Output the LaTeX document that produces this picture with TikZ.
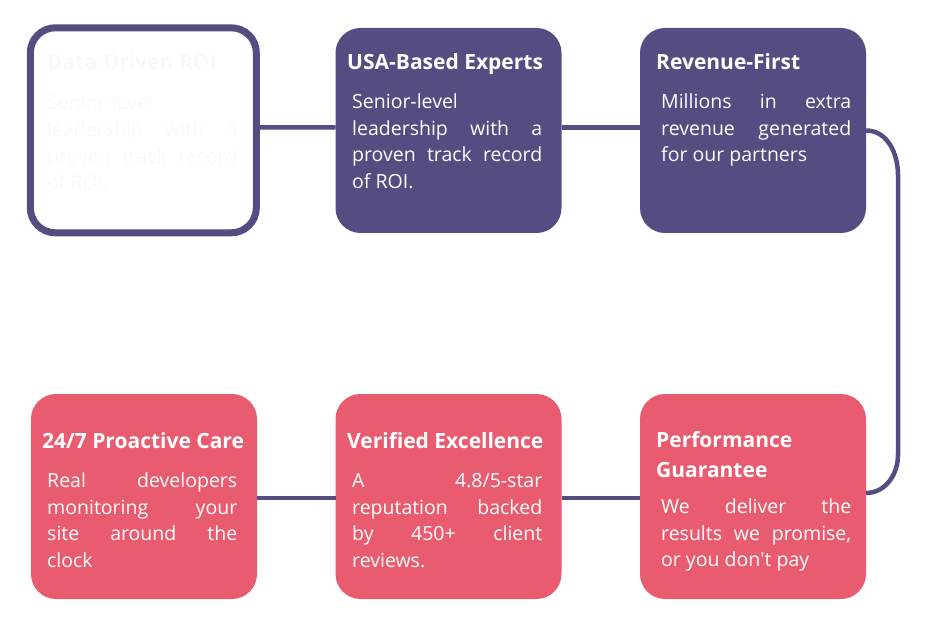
\documentclass[tikz,border=0pt]{standalone}
\usepackage{fontspec}
\setmainfont{Open Sans}
\definecolor{plum}{RGB}{85,76,129}
\definecolor{rose}{RGB}{233,92,112}
\definecolor{ghost}{RGB}{252,247,248}
\begin{document}
\begin{tikzpicture}[x=1pt,y=-1pt,
  card/.style={rounded corners=25pt, minimum width=226pt, minimum height=205pt, inner sep=0pt, outer sep=0pt},
  ttl/.style={anchor=base west, inner sep=0pt, text=white, font=\fontsize{21}{27}\selectfont\bfseries},
  body/.style={anchor=north west, inner sep=0pt, text=white, text width=190pt, align=justify, font=\fontsize{19.5}{26.7}\selectfont},
  link/.style={draw=plum, line width=4.5pt}]
\useasboundingbox (0,0) rectangle (937,636);
\fill[white] (0,0) rectangle (937,636);
% cards
\node[card, draw=plum, line width=7pt, fill=white] (b1) at (143.3,130.3) {};
\node[card, fill=plum] (b2) at (448.5,130.5) {};
\node[card, fill=plum] (b3) at (753,130.5) {};
\node[card, fill=rose] (b4) at (144,496.5) {};
\node[card, fill=rose] (b5) at (448.5,496.5) {};
\node[card, fill=rose] (b6) at (753,496.5) {};
% connectors
\draw[link] ([yshift=3pt]b1.east) -- ([yshift=3pt]b2.west);
\draw[link] ([yshift=3pt]b2.east) -- ([yshift=3pt]b3.west);
\draw[link] ([yshift=-1.5pt]b4.east) -- ([yshift=-1.5pt]b5.west);
\draw[link] ([yshift=-1.5pt]b5.east) -- ([yshift=-1.5pt]b6.west);
\coordinate (r1) at (898,175);
\coordinate (r2) at (898,455);
\draw[link] (b3.east) to[out=0,in=90] (r1) -- (r2) to[out=-90,in=0] ([yshift=3.5pt]b6.east);
% texts
\node[ttl, text=ghost] (t1) at (47,70) {Data-Driven ROI};
\node[body, text=ghost] (d1) at (47,91) {\strut Senior-level\linebreak leadership with a\linebreak proven track record\linebreak of ROI.};
\node[ttl] (t2) at (347,70) {USA-Based Experts};
\node[body] (d2) at (352,89.5) {\strut Senior-level\linebreak leadership with a\linebreak proven track record\linebreak of ROI.};
\node[ttl] (t3) at (656,70) {Revenue-First};
\node[body] (d3) at (661,89.5) {\strut Millions in extra\linebreak revenue generated\linebreak for our partners};
\node[ttl] (t4) at (42,448) {24/7 Proactive Care};
\node[body] (d4) at (47,468.5) {\strut Real developers\linebreak monitoring your\linebreak site around the\linebreak clock};
\node[ttl] (t5) at (347,448) {Verified Excellence};
\node[body] (d5) at (352,468.5) {\strut A 4.8/5-star\linebreak reputation backed\linebreak by 450+ client\linebreak reviews.};
\node[ttl] (t6a) at (656,447) {Performance};
\node[ttl] (t6b) at (656,477) {Guarantee};
\node[body] (d6) at (661,494.5) {\strut We deliver the\linebreak results we promise,\linebreak or you don\textquotesingle t pay};
\end{tikzpicture}
\end{document}
